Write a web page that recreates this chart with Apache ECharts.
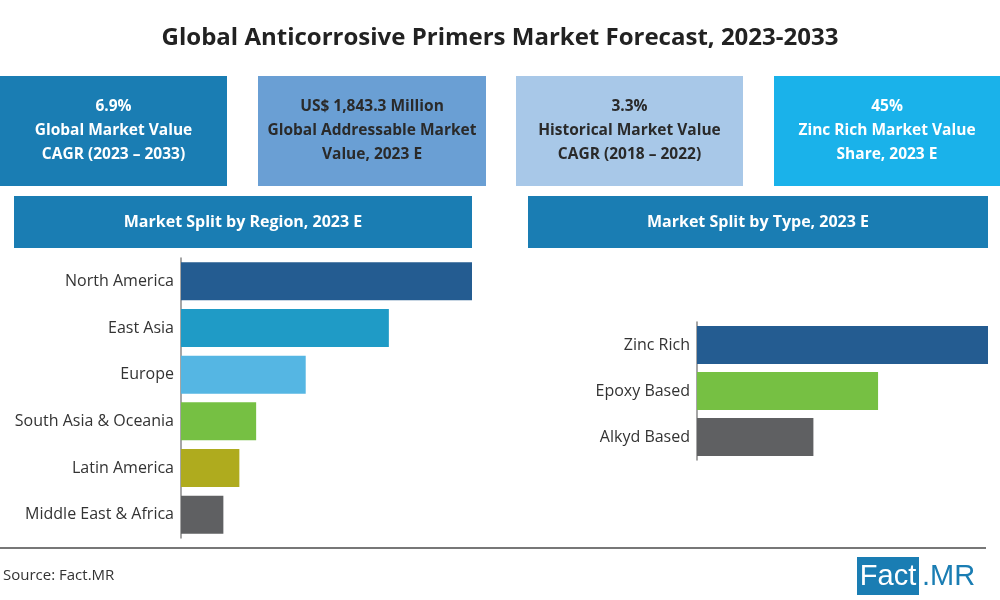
<!DOCTYPE html>
<html>
<head>
<meta charset="utf-8">
<script src="https://cdn.jsdelivr.net/npm/echarts@6/dist/echarts.min.js"></script>
<style>html,body{margin:0;padding:0;background:#fff}#c{width:1000px;height:600px}</style>
</head>
<body>
<div id="c"></div>
<script>
const regionCategories = ['North America','East Asia','Europe','South Asia & Oceania','Latin America','Middle East & Africa'];
const regionValues = [36.4, 26.0, 15.6, 9.4, 7.3, 5.3];
const regionColors = ['#245c91','#1f9bc6','#55b6e3','#76c043','#afab1e','#5f6062'];
const typeCategories = ['Zinc Rich','Epoxy Based','Alkyd Based'];
const typeValues = [45, 28, 18];
const typeColors = ['#245c91','#76c043','#5f6062'];
const kpiBoxes = [
  ['6.9%','Global Market Value','CAGR (2023 – 2033)'],
  ['US$ 1,843.3 Million','Global Addressable Market','Value, 2023 E'],
  ['3.3%','Historical Market Value','CAGR (2018 – 2022)'],
  ['45%','Zinc Rich Market Value','Share, 2023 E']
];
const sectionTitles = ['Market Split by Region, 2023 E','Market Split by Type, 2023 E'];

const chart = echarts.init(document.getElementById('c'));
const FONT = '"Open Sans", "Liberation Sans", sans-serif';
const boxX = [0, 258, 516, 774];
const boxW = [227, 228, 227, 226];
const boxColors = ['#1a7db3','#6a9fd4','#a8c8e8','#1ab2ea'];
const boxText = ['#fff','#2a2a2a','#2a2a2a','#fff'];
const graphics = [];
kpiBoxes.forEach((lines, i) => {
  graphics.push({type:'rect', shape:{x:boxX[i], y:76, width:boxW[i], height:110}, style:{fill:boxColors[i]}, silent:true});
  graphics.push({type:'text', x:boxX[i]+boxW[i]/2, y:131, style:{text:lines.join('\n'), fill:boxText[i], font:'bold 15.5px '+FONT, align:'center', verticalAlign:'middle', lineHeight:24}, silent:true});
});
[[14,458],[528,460]].forEach((p, i) => {
  graphics.push({type:'rect', shape:{x:p[0], y:196, width:p[1], height:52}, style:{fill:'#1a7db3'}, silent:true});
  graphics.push({type:'text', x:p[0]+p[1]/2, y:222, style:{text:sectionTitles[i], fill:'#fff', font:'bold 16px '+FONT, align:'center', verticalAlign:'middle'}, silent:true});
});
graphics.push({type:'line', shape:{x1:0, y1:548, x2:986, y2:548}, style:{stroke:'#777', lineWidth:2}, silent:true});
graphics.push({type:'text', x:3, y:576, style:{text:'Source: Fact.MR', fill:'#333', font:'15px '+FONT, verticalAlign:'middle'}, silent:true});
graphics.push({type:'rect', shape:{x:857, y:557, width:62, height:38}, style:{fill:'#1a7db3'}, silent:true});
graphics.push({type:'text', x:888, y:577, style:{text:'Fact', fill:'#fff', font:'29px "Liberation Sans Narrow", "Liberation Sans", sans-serif', align:'center', verticalAlign:'middle'}, silent:true});
graphics.push({type:'text', x:922, y:577, style:{text:'.MR', fill:'#1a7db3', font:'29px "Liberation Sans Narrow", "Liberation Sans", sans-serif', verticalAlign:'middle'}, silent:true});

const axisLabelStyle = {color:'#333', fontSize:16, fontFamily:FONT, margin:7};
chart.setOption({
  animation:false,
  title:{text:'Global Anticorrosive Primers Market Forecast, 2023-2033', left:'center', top:21, textStyle:{fontSize:24, fontWeight:'bold', color:'#222', fontFamily:FONT}},
  grid:[
    {left:181, right:528, top:258, height:280},
    {left:697, right:12, top:322, height:138}
  ],
  xAxis:[
    {gridIndex:0, type:'value', min:0, max:'dataMax', show:false},
    {gridIndex:1, type:'value', min:0, max:'dataMax', show:false}
  ],
  yAxis:[
    {gridIndex:0, type:'category', data:regionCategories, inverse:true, axisLine:{lineStyle:{color:'#888', width:1.5}}, axisTick:{show:false}, axisLabel:axisLabelStyle},
    {gridIndex:1, type:'category', data:typeCategories, inverse:true, axisLine:{lineStyle:{color:'#888', width:1.5}}, axisTick:{show:false}, axisLabel:axisLabelStyle}
  ],
  series:[
    {type:'bar', xAxisIndex:0, yAxisIndex:0, barWidth:38, data:regionValues.map((v,i)=>({value:v, itemStyle:{color:regionColors[i]}}))},
    {type:'bar', xAxisIndex:1, yAxisIndex:1, barWidth:38, data:typeValues.map((v,i)=>({value:v, itemStyle:{color:typeColors[i]}}))}
  ],
  graphic:graphics
});
</script>
</body>
</html>
